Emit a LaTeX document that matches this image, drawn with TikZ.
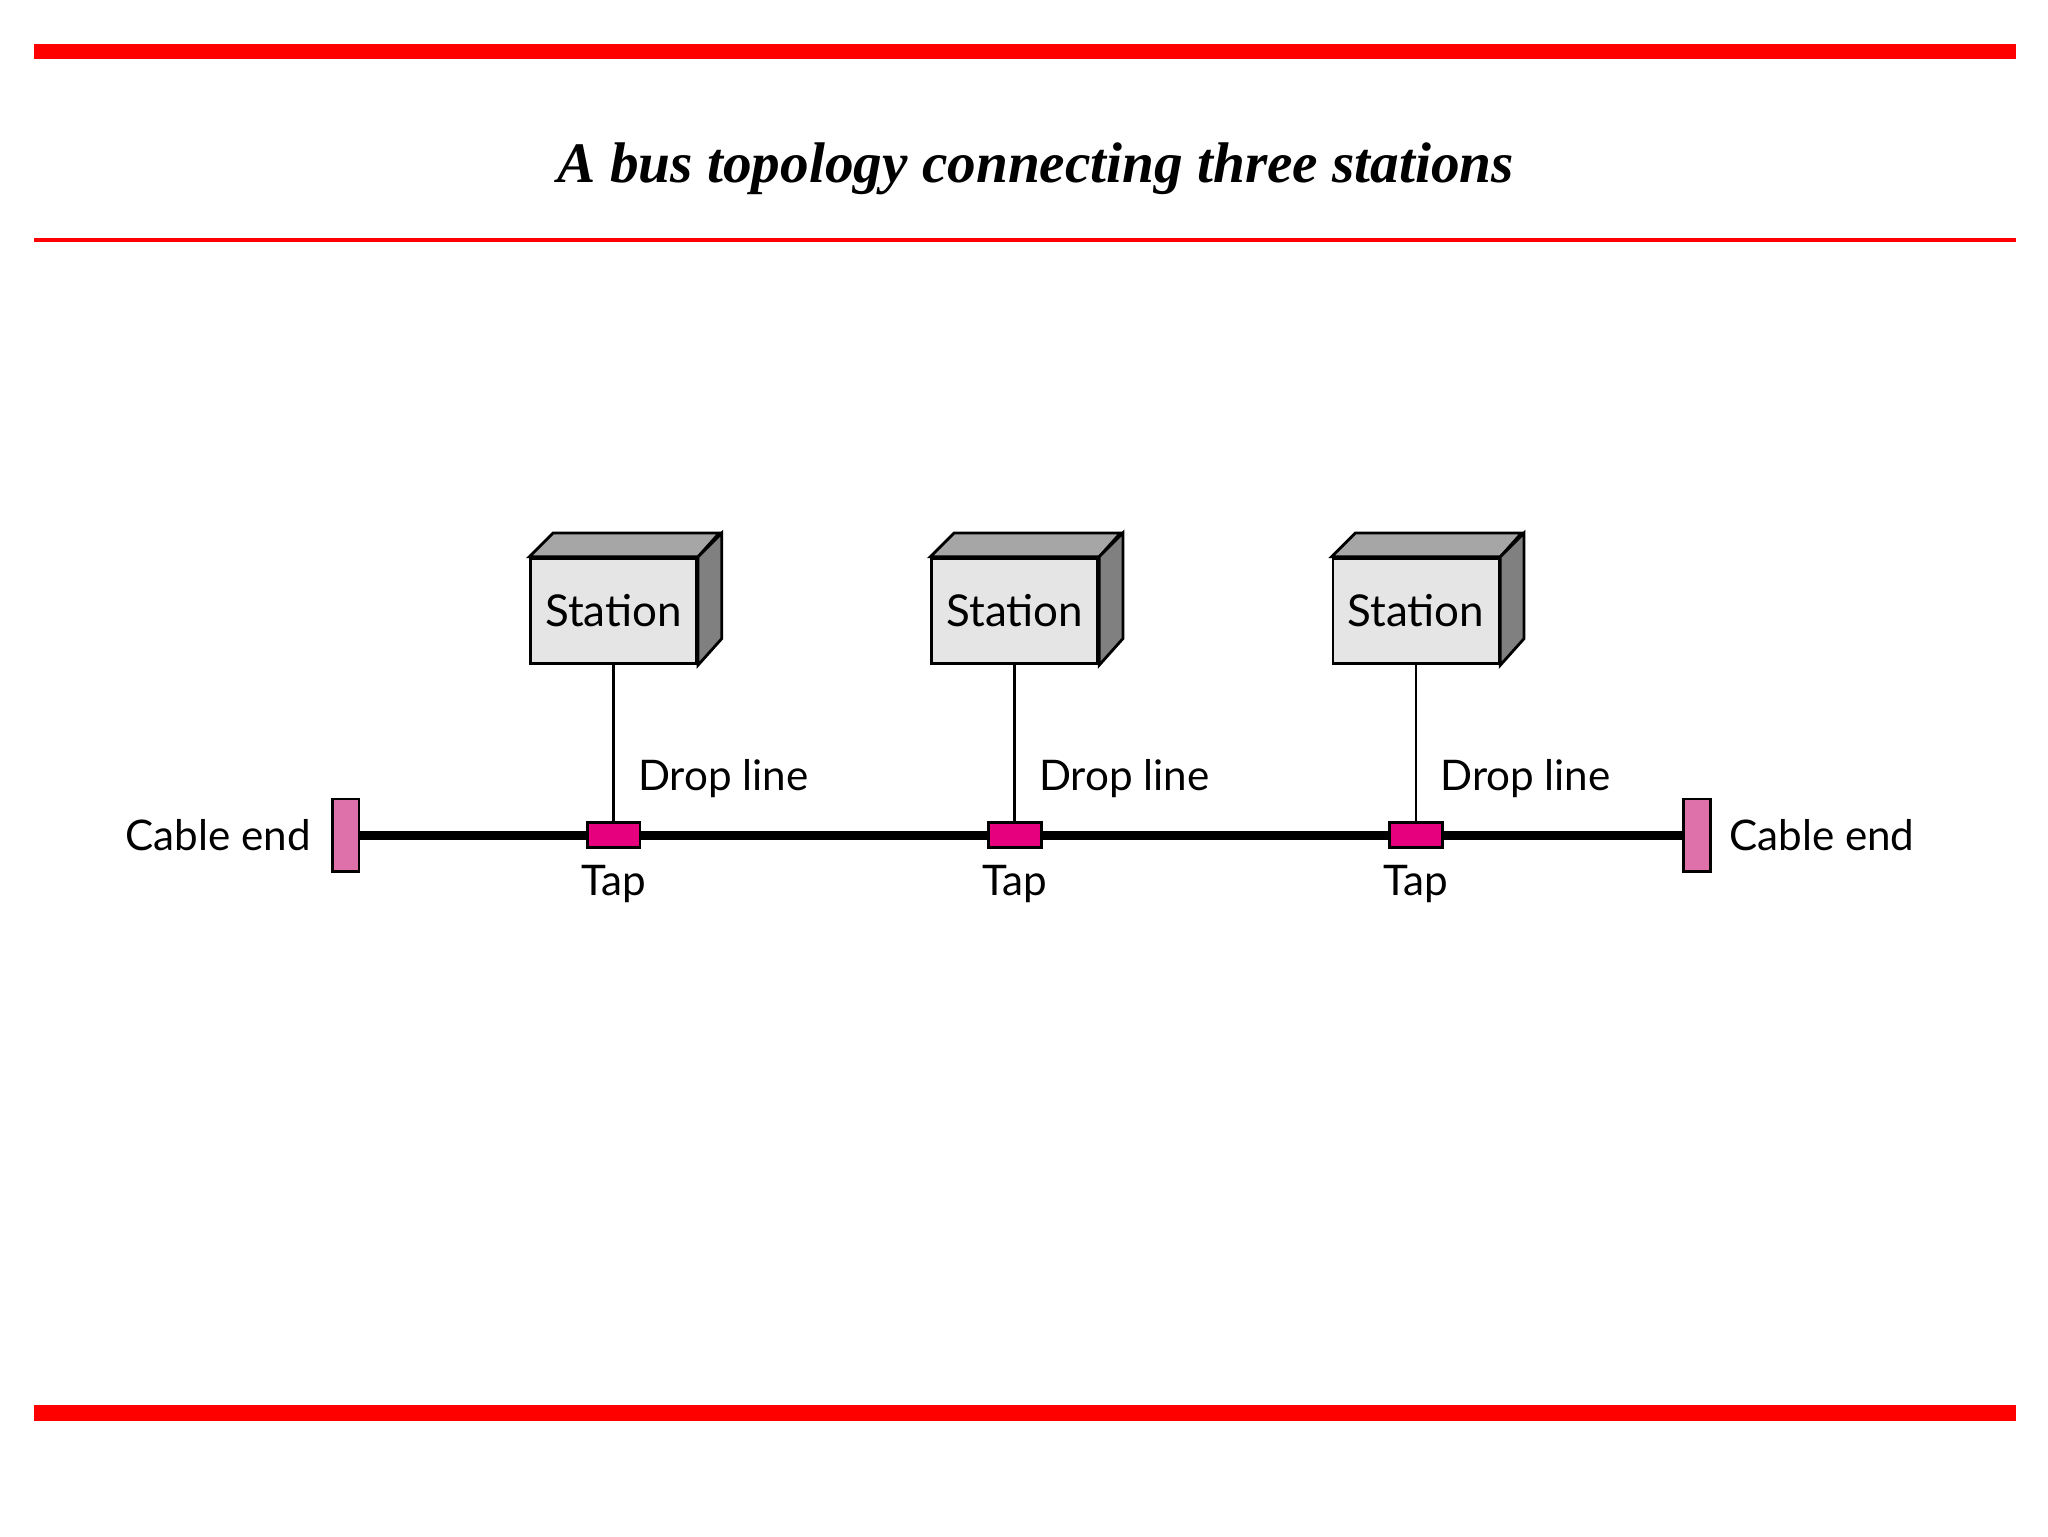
\documentclass[tikz,border=0pt]{standalone}
\usepackage{fontspec}
\setmainfont{Liberation Serif}
\newfontfamily\lbl{Lato}
\usetikzlibrary{positioning}
\definecolor{barred}{RGB}{255,0,0}
\definecolor{endpink}{RGB}{222,112,170}
\definecolor{tapmag}{RGB}{230,0,126}
\tikzset{
	station/.style={draw, line width=0.8pt, fill=black!10, minimum width=1.66cm, minimum height=1.056cm, inner sep=0pt, font=\lbl\fontsize{12.5}{15}\selectfont},
	tap/.style={draw, line width=0.8pt, fill=tapmag, minimum width=0.528cm, minimum height=0.25cm, inner sep=0pt},
	cableend/.style={draw, line width=0.8pt, fill=endpink, minimum width=0.264cm, minimum height=0.726cm, inner sep=0pt},
	txt/.style={font=\lbl\fontsize{12}{14}\selectfont, inner sep=0pt}
}
\begin{document}
\begin{tikzpicture}[x=0.0132cm, y=-0.0132cm]
	\useasboundingbox (0,0) rectangle (1552,1164);
	% frame
	\draw[barred, line width=4.5pt] (26,39) -- (1528,39);
	\draw[barred, line width=1pt] (26,182) -- (1528,182);
	\draw[barred, line width=4.5pt] (26,1071) -- (1528,1071);
	\node[font=\bfseries\itshape\fontsize{16.3}{20}\selectfont] (title) at (785,128) {A bus topology connecting three stations};
	% bus
	\node[cableend] (endL) at (262,633) {};
	\node[cableend] (endR) at (1286,633) {};
	\draw[line width=2.6pt] (endL.east) -- (endR.west);
	\node[txt, anchor=east] (lblL) at (236,633) {Cable end};
	\node[txt, anchor=west] (lblR) at (1310,633) {Cable end};
	% stations
	\foreach \i/\x in {1/465,2/769,3/1073}{
		\node[station] (st\i) at (\x,463) {Station};
		\filldraw[line width=0.8pt, fill=black!35] (st\i.north west) -- ++(18,-18) -- ++(126,0) -- (st\i.north east) -- cycle;
		\filldraw[line width=0.8pt, fill=black!50] (st\i.north east) -- ++(18,-18) -- ++(0,80) -- (st\i.south east) -- cycle;
		\node[tap] (tap\i) at (\x,633) {};
		\draw[line width=0.8pt] (st\i.south) -- (tap\i.north);
		\node[txt, anchor=west] (drop\i) at (\x+18,590) {Drop line};
		\node[txt] (tapl\i) at (\x,670) {Tap};
	}
\end{tikzpicture}
\end{document}
